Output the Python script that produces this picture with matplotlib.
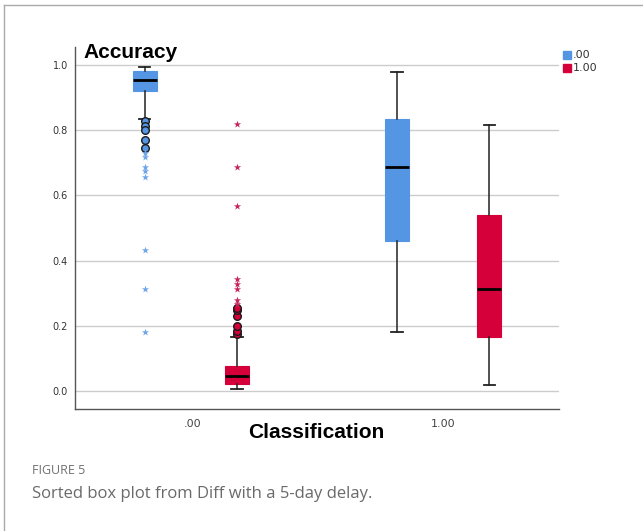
import numpy as np
import matplotlib.pyplot as plt
from matplotlib.lines import Line2D
from matplotlib.patches import Rectangle

# box stats: (whislo, q1, med, q3, whishi)
groups = ['.00', '1.00']
series = ['.00', '1.00']
blue_stats = [(0.834, 0.921, 0.955, 0.980, 0.993), (0.182, 0.461, 0.687, 0.834, 0.979)]
red_stats = [(0.006, 0.021, 0.046, 0.078, 0.167), (0.019, 0.165, 0.313, 0.540, 0.817)]

# outliers of the first group
blue_circles = [0.829, 0.813, 0.800, 0.770, 0.745]
blue_stars = [0.729, 0.719, 0.688, 0.675, 0.657, 0.432, 0.314, 0.182]
red_circles = [0.175, 0.185, 0.199, 0.230, 0.250, 0.256]
red_stars = [0.268, 0.280, 0.313, 0.328, 0.343, 0.567, 0.686, 0.818]

blue = '#5596e4'
red = '#d5003a'

fig = plt.figure(figsize=(6.43, 5.31), dpi=100)
ax = fig.add_axes([75/643, 1 - 409/531, 484/643, 362/531])

pos = np.arange(len(groups))
off = 0.183
w = 0.095

def make(stats):
    return [dict(whislo=s[0], q1=s[1], med=s[2], q3=s[3], whishi=s[4], fliers=[]) for s in stats]

for stats, shift, col in [(blue_stats, -off, blue), (red_stats, off, red)]:
    ax.bxp(make(stats), positions=pos + shift, widths=w, patch_artist=True,
           showfliers=False, capwidths=0.045,
           boxprops=dict(facecolor=col, edgecolor=col, linewidth=0.8),
           medianprops=dict(color='black', linewidth=2),
           whiskerprops=dict(color='#222222', linewidth=1.1),
           capprops=dict(color='#222222', linewidth=1.3))

ax.scatter([pos[0] - off] * len(blue_circles), blue_circles, s=30, color=blue, edgecolors='#1a1a1a', linewidths=1, zorder=3)
ax.scatter([pos[0] - off] * len(blue_stars), blue_stars, s=30, marker='*', color='#6fa5e8', linewidths=0, zorder=3)
ax.scatter([pos[0] + off] * len(red_circles), red_circles, s=30, color=red, edgecolors='#1a1a1a', linewidths=1, zorder=3)
ax.scatter([pos[0] + off] * len(red_stars), red_stars, s=30, marker='*', color='#c8245a', linewidths=0, zorder=3)

ax.set_xlim(-0.46, 1.46)
ax.set_ylim(-0.055, 1.055)
ax.set_yticks([0.0, 0.2, 0.4, 0.6, 0.8, 1.0])
ax.set_yticklabels(['0.0', '0.2', '0.4', '0.6', '0.8', '1.0'], fontsize=7, color='#333333')
ax.set_xticks(pos)
ax.set_xticklabels([])
ax.tick_params(length=0, pad=5)
ax.yaxis.grid(True, color='#cccccc', linewidth=1)
ax.set_axisbelow(True)
for s in ['top', 'right']:
    ax.spines[s].set_visible(False)
for s in ['left', 'bottom']:
    ax.spines[s].set_color('#555555')
    ax.spines[s].set_linewidth(1)

# x labels at uneven heights like the source
fig.text(193/643, 1 - 424/531, groups[0], fontsize=8, color='#444444', ha='center', va='center')
fig.text(443/643, 1 - 424/531, groups[1], fontsize=8, color='#444444', ha='center', va='center')

fig.text(83/643, 1 - 52/531, 'Accuracy', fontsize=15, fontweight='bold', family='Liberation Sans', va='center')
fig.text(316/643, 1 - 432/531, 'Classification', fontsize=15, fontweight='bold', family='Liberation Sans', ha='center', va='center')

# legend
for i, (lab, col) in enumerate(zip(series, [blue, red])):
    y = 51 + i * 13
    fig.patches.append(Rectangle((563/643, 1 - (y + 8)/531), 8/643, 8/531, transform=fig.transFigure, color=col))
    fig.text(573/643, 1 - (y + 4)/531, lab, fontsize=8, color='#333333', va='center')

# frame of the page
fig.add_artist(Line2D([4/643, 4/643], [0, 1 - 5/531], color='#aaaaaa', linewidth=1))
fig.add_artist(Line2D([4/643, 1], [1 - 5/531, 1 - 5/531], color='#aaaaaa', linewidth=1))

fig.text(32/643, 1 - 471/531, 'FIGURE 5', fontsize=9, color='#707070', family='Open Sans', va='center')
fig.text(32/643, 1 - 494/531, 'Sorted box plot from Diff with a 5-day delay.', fontsize=12,
         color='#6a6a6a', family='Open Sans', va='center')

fig.savefig('out.png', dpi=100)
